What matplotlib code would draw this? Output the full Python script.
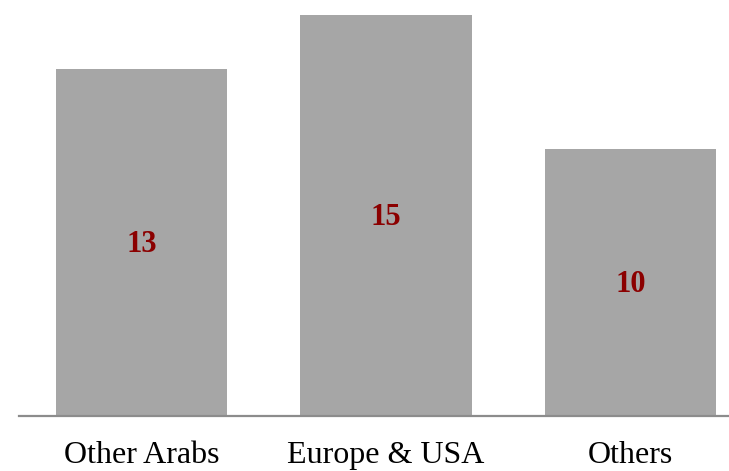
import matplotlib
matplotlib.use("Agg")
import matplotlib.pyplot as plt

categories = ["Other Arabs", "Europe & USA", "Others"]
values = [13, 15, 10]

BAR_COLOR = "#a6a6a6"
LABEL_COLOR = "#8b0000"

plt.rcParams["font.family"] = ["Liberation Serif", "DejaVu Serif"]

fig = plt.figure(figsize=(7.29, 4.71), dpi=100)
# axes runs a bit past the right edge so the baseline reaches it
ax = fig.add_axes([19.25 / 729, 55 / 471, 733.5 / 729, 416 / 471])

x = range(len(categories))
bars = ax.bar(x, values, width=0.7, color=BAR_COLOR)
for b, v in zip(bars, values):
    ax.text(b.get_x() + b.get_width() / 2, v / 2 - 0.08, f"{v}",
            ha="center", va="center", fontsize=22, fontweight="bold",
            color=LABEL_COLOR)

ax.set_xlim(-0.5, 2.5)
ax.set_ylim(0, 15.58)
ax.set_xticks(list(x))
ax.set_xticklabels(categories, fontsize=23)
ax.tick_params(axis="x", length=0, pad=18)
ax.set_yticks([])
for side in ["top", "right", "left"]:
    ax.spines[side].set_visible(False)
ax.spines["bottom"].set_color("#8c8c8c")
ax.spines["bottom"].set_linewidth(1.6)

fig.savefig("out.png", dpi=100)
